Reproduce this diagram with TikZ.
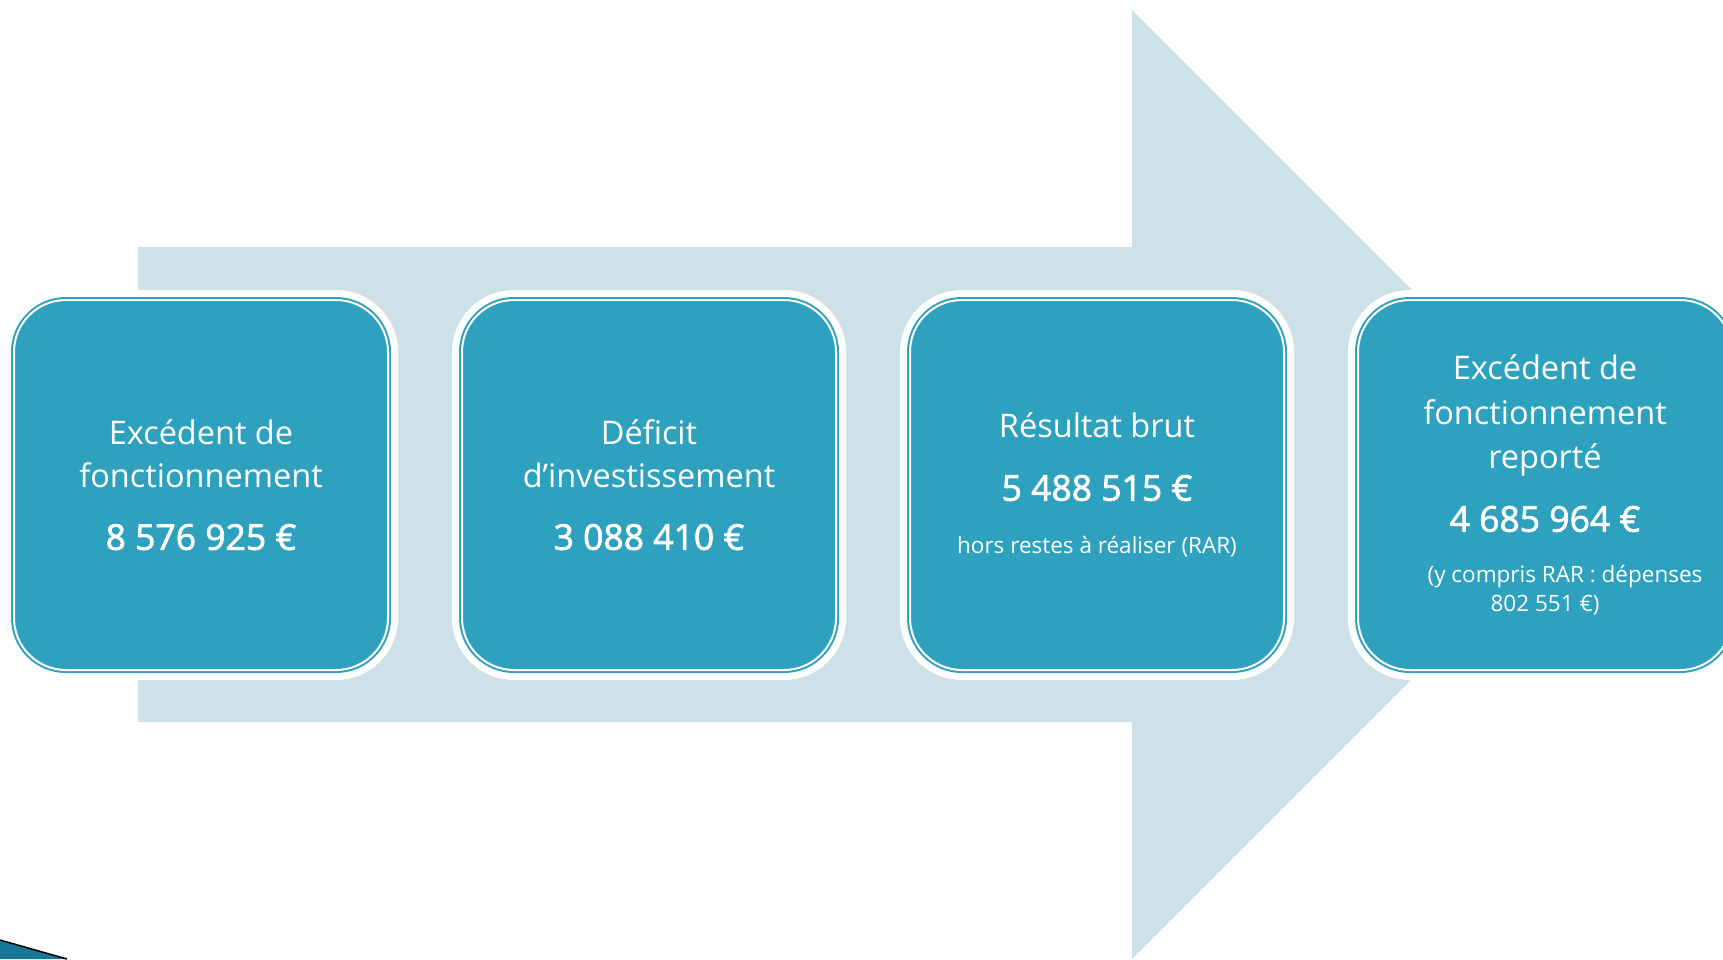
\documentclass[tikz,border=0pt]{standalone}
\usepackage{fontspec}
\setmainfont{Open Sans}
\newfontfamily\numfont[FakeBold=2]{Open Sans}
\usetikzlibrary{positioning}
\definecolor{boxteal}{RGB}{46,161,191}
\definecolor{arrowblue}{RGB}{206,224,232}
\definecolor{cornerteal}{RGB}{22,120,150}
\newcommand{\amount}[1]{{\numfont\fontsize{35.5}{43}\selectfont #1}}
\newcommand{\smalltext}[1]{{\fontsize{22.5}{43}\selectfont #1}}

\begin{document}
\begin{tikzpicture}[
        x=1pt, y=-1pt,
        stepbox/.style={rectangle, rounded corners=52pt, minimum width=374pt, minimum height=370pt,
            inner sep=0pt, fill=boxteal, draw=boxteal, line width=2pt, double=white, double distance=2pt,
            text=white, align=center, font=\fontsize{32.5}{43}\selectfont,
            preaction={draw=white, line width=20pt}},
        node distance=72pt,
    ]
    \useasboundingbox (0,0) rectangle (1723,959);
    \clip (0,0) rectangle (1723,959);
    % big arrow behind the boxes
    \fill[arrowblue] (138,247) -- (1132,247) -- (1132,10) -- (1606.5,484.5) -- (1132,959) -- (1132,722) -- (138,722) -- cycle;
    % corner of the slide
    \fill[cornerteal] (0,940) -- (67,959) -- (0,959) -- cycle;
    \draw[black, line width=1.5pt] (0,940) -- (67,959);
    \node[stepbox] (exc) at (201,485) {Excédent de\\fonctionnement\\[19pt]\amount{8 576 925 €}};
    \node[stepbox, right=of exc] (def) {Déficit\\d’investissement\\[19pt]\amount{3 088 410 €}};
    \node[stepbox, right=of def] (res) {Résultat brut\\[20pt]\amount{5 488 515 €}\\[10pt]\smalltext{hors restes à réaliser (RAR)}};
    \node[stepbox, right=of res] (rep) {Excédent de\\[1.5pt]fonctionnement\\[1.5pt]reporté\\[20pt]\amount{4 685 964 €}\\[8pt]\smalltext{\hspace*{40pt}(y compris RAR : dépenses}\\[-14pt]\smalltext{802 551 €)}};
\end{tikzpicture}
\end{document}
